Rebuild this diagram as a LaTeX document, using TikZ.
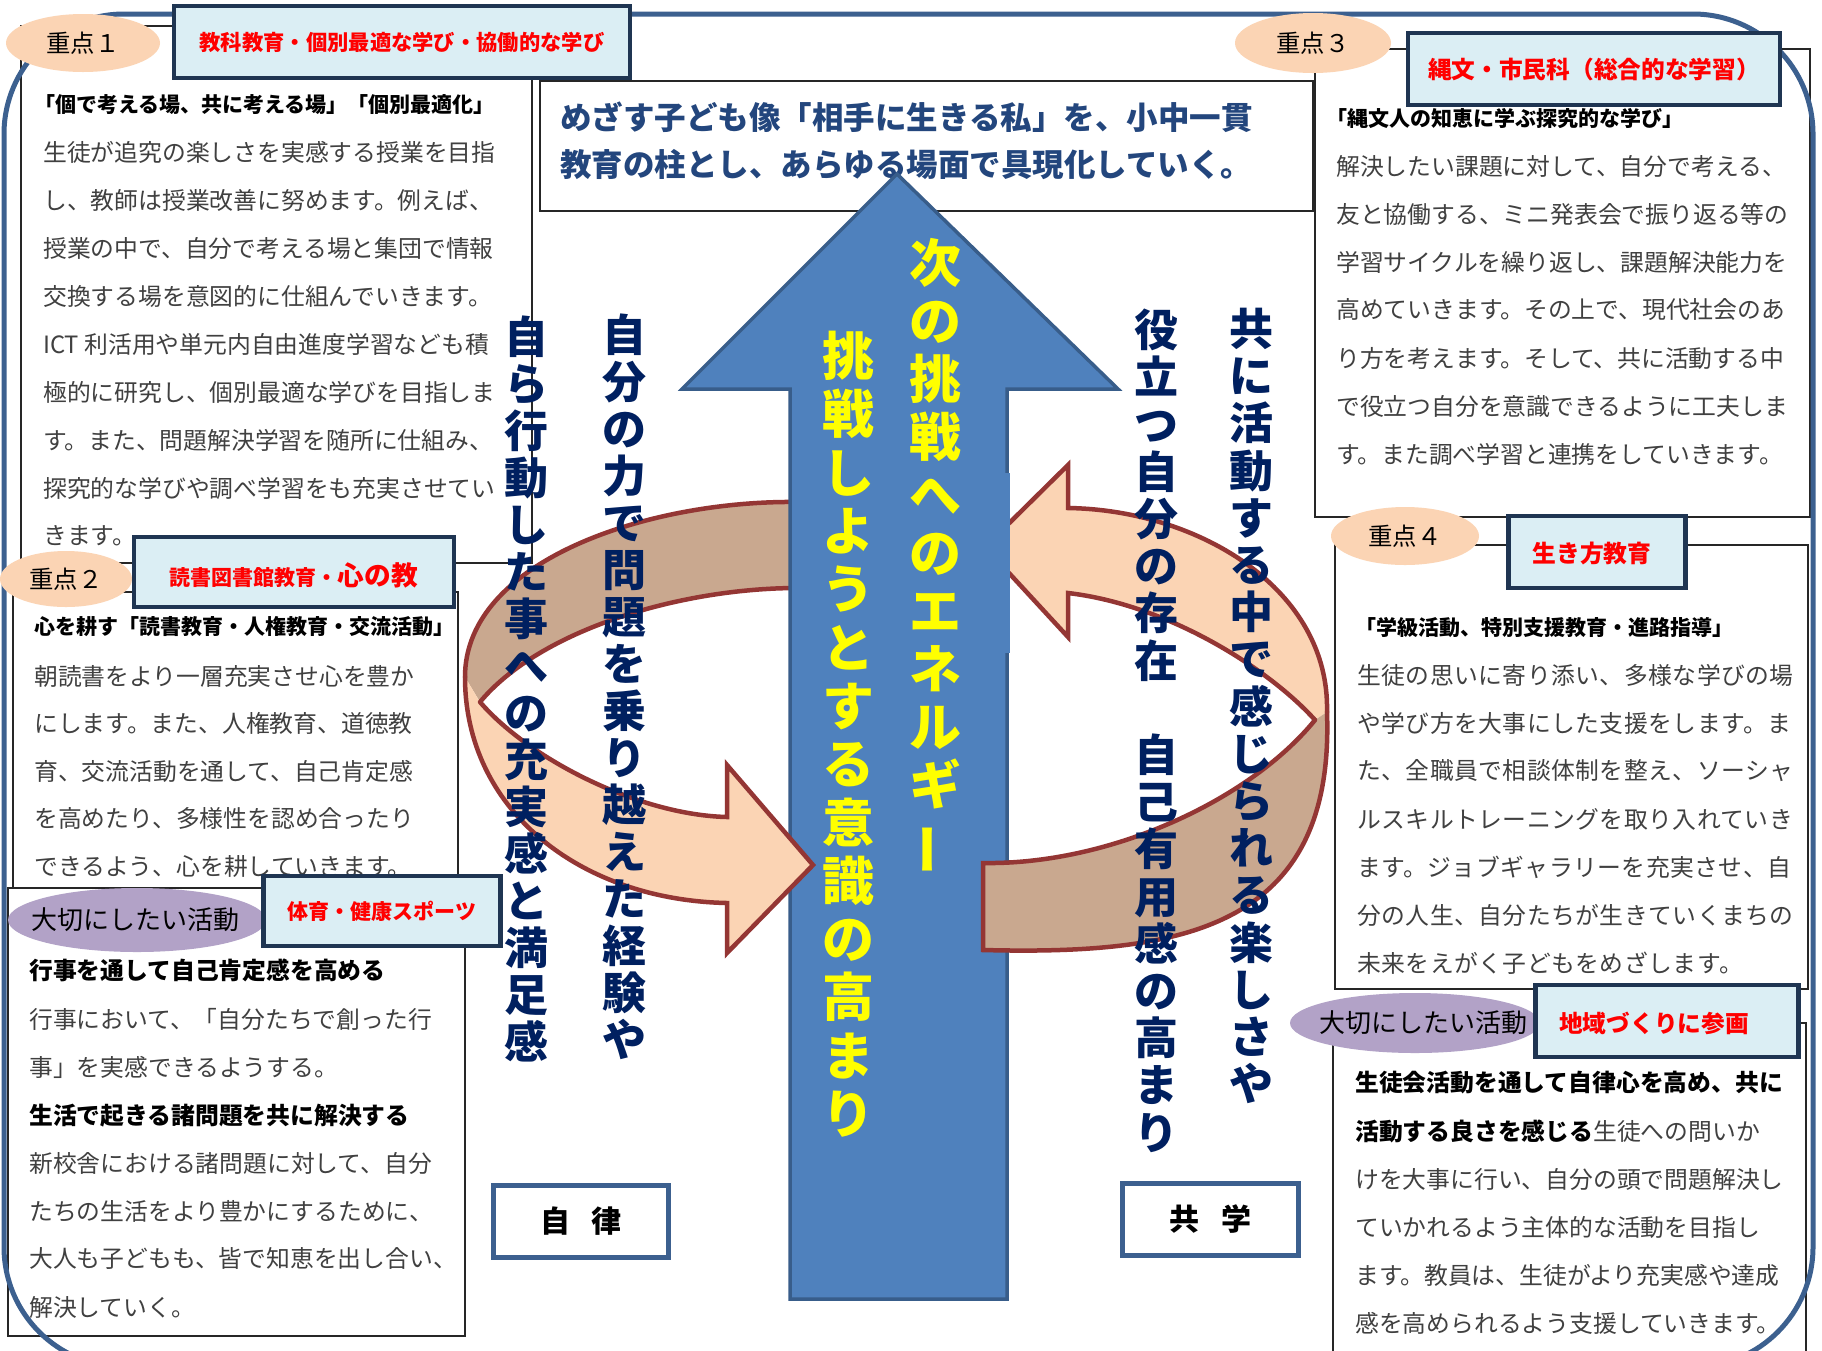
\documentclass[tikz,border=0pt]{standalone}
\usepackage{fontspec}
\setmainfont{Noto Sans CJK JP}
\newfontfamily\jpls{Noto Sans CJK JP}[LetterSpace=2]
\usepackage{graphicx}
\usetikzlibrary{shapes.geometric}

\definecolor{bodygray}{RGB}{64,64,64}
\definecolor{lblfill}{RGB}{219,238,244}
\definecolor{lblborder}{RGB}{31,53,82}
\definecolor{peach}{RGB}{251,212,180}
\definecolor{looptan}{RGB}{201,168,143}
\definecolor{loopred}{RGB}{148,54,52}
\definecolor{purp}{RGB}{178,162,199}
\definecolor{frameblue}{RGB}{60,96,143}
\definecolor{arrowfill}{RGB}{79,129,189}
\definecolor{arrowline}{RGB}{56,93,138}
\definecolor{navy}{RGB}{0,32,96}
\definecolor{goalblue}{RGB}{35,70,125}
\definecolor{ylw}{RGB}{255,255,0}

\ExplSyntaxOn
\NewDocumentCommand\vtext{mm}
  {
    \vbox:n
      {
        \baselineskip=#1 \relax
        \lineskiplimit=-\maxdimen \relax
        \tl_map_inline:nn {#2} { \hbox_to_wd:nn {1em} { \hss ##1 \hss } }
      }
  }
\ExplSyntaxOff

\begin{document}
\begin{tikzpicture}[x=1pt,y=-1pt,
  thinbox/.style={draw=black!85, line width=1.3pt, fill=white},
  lbl/.style={draw=lblborder, line width=4.5pt, fill=lblfill, inner sep=0pt, outer sep=0pt},
  lbltext/.style={text=red, font=\bfseries\fontsize{22}{26}\selectfont},
  body/.style={text=bodygray, font=\fontsize{23.8}{28}\selectfont, inner sep=0pt, anchor=west},
  bodyls/.style={text=bodygray, font=\jpls\fontsize{23.8}{28}\selectfont, inner sep=0pt, anchor=west},
  bold/.style={text=black, font=\bfseries\fontsize{23.8}{28}\selectfont, inner sep=0pt, anchor=west},
  head/.style={text=black, font=\bfseries\fontsize{21}{25}\selectfont, inner sep=0pt, anchor=west},
  pt/.style={ellipse, fill=peach, inner sep=0pt},
  pu/.style={ellipse, fill=purp, inner sep=0pt},
  ptext/.style={inner sep=0pt, font=\fontsize{24.4}{28}\selectfont},
  putext/.style={inner sep=0pt, font=\fontsize{26}{30}\selectfont},
  loopline/.style={draw=loopred, line width=4.5pt, line join=miter, line cap=round},
  kbox/.style={draw=frameblue, line width=5pt, fill=white, inner sep=0pt, font=\bfseries\fontsize{30}{34}\selectfont},
  vy/.style={anchor=north, inner sep=0pt, text=ylw, font=\bfseries\fontsize{52}{58}\selectfont},
  vn/.style={anchor=north, inner sep=0pt, text=navy, font=\bfseries\fontsize{44}{48}\selectfont}
]
\useasboundingbox (0,0) rectangle (1822,1350);
\fill[white] (0,0) rectangle (1822,1350);

% ---------- thin text boxes ----------
\draw[thinbox] (21,26) rectangle (532,563);
\draw[thinbox] (13,592) rectangle (458,888);
\draw[thinbox] (8,888) rectangle (465,1336);
\draw[thinbox] (1315,49) rectangle (1810,517);
\draw[thinbox] (1335,545) rectangle (1808,989);
\draw[thinbox] (1333,1023) rectangle (1806,1380);
\draw[thinbox] (540,81) rectangle (1313,211);

% ---------- box 1 ----------
\node[head] (h1) at (34,105) {「個で考える場、共に考える場」「個別最適化」};
\foreach \t [count=\i from 0] in {生徒が追究の楽しさを実感する授業を目指, し、教師は授業改善に努めます。例えば、, 授業の中で、自分で考える場と集団で情報, 交換する場を意図的に仕組んでいきます。, ICT 利活用や単元内自由進度学習なども積, 極的に研究し、個別最適な学びを目指しま, す。また、問題解決学習を随所に仕組み、, 探究的な学びや調べ学習をも充実させてい, きます。}
  \node[body] (a\i) at (43,{152+48*\i}) {\t};

% ---------- box 2 ----------
\node[head] (h2) at (34,627) {心を耕す「読書教育・人権教育・交流活動」};
\foreach \t [count=\i from 0] in {朝読書をより一層充実させ心を豊か, にします。また、人権教育、道徳教, 育、交流活動を通して、自己肯定感, を高めたり、多様性を認め合ったり, できるよう、心を耕していきます。}
  \node[body] (b\i) at (34,{676+47.5*\i}) {\t};

% ---------- left taisetsu ----------
\node[bold] (c0) at (29,970) {行事を通して自己肯定感を高める};
\node[body] (c1) at (29,1019) {行事において、「自分たちで創った行};
\node[body] (c2) at (29,1067) {事」を実感できるようする。};
\node[bold] (c3) at (29,1116) {生活で起きる諸問題を共に解決する};
\node[body] (c4) at (29,1163) {新校舎における諸問題に対して、自分};
\node[body] (c5) at (29,1211) {たちの生活をより豊かにするために、};
\node[body] (c6) at (29,1258) {大人も子どもも、皆で知恵を出し合い、};
\node[body] (c7) at (29,1307) {解決していく。};

% ---------- box 3 ----------
\node[head] (h3) at (1326,119) {「縄文人の知恵に学ぶ探究的な学び」};
\foreach \t [count=\i from 0] in {解決したい課題に対して、自分で考える、, 友と協働する、ミニ発表会で振り返る等の, 学習サイクルを繰り返し、課題解決能力を, 高めていきます。その上で、現代社会のあ, り方を考えます。そして、共に活動する中, で役立つ自分を意識できるように工夫しま, す。また調べ学習と連携をしていきます。}
  \node[body] (d\i) at (1336,{166+48*\i}) {\t};

% ---------- box 4 ----------
\node[head] (h4) at (1355,628) {「学級活動、特別支援教育・進路指導」};
\foreach \t [count=\i from 0] in {生徒の思いに寄り添い、多様な学びの場, や学び方を大事にした支援をします。ま, た、全職員で相談体制を整え、ソーシャ, ルスキルトレーニングを取り入れていき, ます。ジョブギャラリーを充実させ、自, 分の人生、自分たちが生きていくまちの, 未来をえがく子どもをめざします。}
  \node[bodyls] (e\i) at (1357,{675+48*\i}) {\t};

% ---------- box 5 ----------
\node[bold] (f0) at (1355,1083) {生徒会活動を通して自律心を高め、共に};
\node[body] (f1) at (1355,1131) {\textcolor{black}{\bfseries 活動する良さを感じる}生徒への問いか};
\foreach \t [count=\i from 2] in {けを大事に行い、自分の頭で問題解決し, ていかれるよう主体的な活動を目指し, ます。教員は、生徒がより充実感や達成, 感を高められるよう支援していきます。}
  \node[body] (f\i) at (1355,{1083+48*\i}) {\t};

% ---------- goal text ----------
\node[anchor=west, inner sep=0pt, text=goalblue, font=\bfseries\fontsize{31.5}{36}\selectfont] (g1) at (560,117) {めざす子ども像「相手に生きる私」を、小中一貫};
\node[anchor=west, inner sep=0pt, text=goalblue, font=\bfseries\fontsize{31.5}{36}\selectfont] (g2) at (560,165) {教育の柱とし、あらゆる場面で具現化していく。};

% ---------- outer frame ----------
\draw[frameblue, line width=5pt, rounded corners=120pt] (4,14) rectangle (1813,1367);

% ---------- ellipses ----------
\node[pt, minimum width=154, minimum height=58] (k1) at (83,43) {};
\node[ptext] at (k1) {重点１};
\node[pt, minimum width=132, minimum height=56] (k2) at (66,579) {};
\node[ptext] at (k2) {重点２};
\node[pt, minimum width=156, minimum height=60] (k3) at (1313,43) {};
\node[ptext] at (k3) {重点３};
\node[pt, minimum width=148, minimum height=58] (k4) at (1405,536) {};
\node[ptext] at (k4) {重点４};
\node[pu, minimum width=258, minimum height=64] (t1) at (137,920) {};
\node[putext] at (135,920) {大切にしたい活動};
\node[pu, minimum width=250, minimum height=60] (t2) at (1415,1023) {};
\node[putext] at (1423,1023) {大切にしたい活動};

% ---------- label boxes ----------
\node[lbl, minimum width=456, minimum height=72] (l1) at (402,42) {};
\node[lbltext, font=\bfseries\fontsize{21.3}{25}\selectfont] at (l1) {教科教育・個別最適な学び・協働的な学び};
\node[lbl, minimum width=320, minimum height=70] (l2) at (294,572) {};
\node[lbltext] at (294,575) {{\fontsize{21}{25}\selectfont 読書図書館教育・}{\fontsize{26.7}{30}\selectfont 心の教}};
\node[lbl, minimum width=237, minimum height=70] (l5) at (382,911) {};
\node[lbltext, font=\bfseries\fontsize{21}{25}\selectfont] at (l5) {体育・健康スポーツ};
\node[lbl, minimum width=372, minimum height=72] (l3) at (1594,69) {};
\node[lbltext, font=\bfseries\fontsize{23.7}{28}\selectfont] at (l3) {縄文・市民科（総合的な学習）};
\node[lbl, minimum width=177, minimum height=72] (l4) at (1597,552) {};
\node[lbltext, font=\bfseries\fontsize{23.8}{28}\selectfont] at (1592,553) {生き方教育};
\node[lbl, minimum width=263, minimum height=72] (l6) at (1667,1021) {};
\node[lbltext, font=\bfseries\fontsize{23.7}{28}\selectfont] at (1654,1023) {地域づくりに参画};

% ---------- loops (back parts) ----------
\fill[looptan] (798,502) .. controls (650,500) and (465,560) .. (465,677) -- (480,702) .. controls (540,630) and (680,588) .. (798,588) -- cycle;
\draw[loopline] (798,502) .. controls (650,500) and (465,560) .. (465,677);
\draw[loopline] (480,702) .. controls (540,630) and (680,588) .. (798,588);

\fill[peach] (1068,508) .. controls (1200,510) and (1330,590) .. (1327,712) -- (1315,720) .. controls (1270,670) and (1170,605) .. (1068,593) -- (1068,637) -- (985,547) -- (1068,465) -- cycle;
\draw[loopline] (1315,720) .. controls (1270,670) and (1170,605) .. (1068,593) -- (1068,637) -- (985,547) -- (1068,465) -- (1068,508) .. controls (1200,510) and (1330,590) .. (1327,712);

% ---------- big arrow ----------
\draw[draw=arrowline, fill=arrowfill, line width=3.5pt, line join=miter] (897,174) -- (1118,389) -- (1007,389) -- (1007,1299) -- (790,1299) -- (790,389) -- (682,389) -- cycle;
\fill[arrowfill] (990,473) rectangle (1010,653);

% ---------- loops (front parts) ----------
\fill[peach] (465,677) .. controls (465,810) and (580,900) .. (727,903) -- (727,953) -- (813,865) -- (727,765) -- (727,817) .. controls (640,815) and (530,760) .. (480,702) -- cycle;
\draw[loopline] (465,677) .. controls (465,810) and (580,900) .. (727,903) -- (727,953) -- (813,865) -- (727,765) -- (727,817) .. controls (640,815) and (530,760) .. (480,702);

\fill[looptan] (1327,712) .. controls (1335,930) and (1180,955) .. (983,950) -- (983,863) .. controls (1110,865) and (1250,800) .. (1315,720) -- cycle;
\draw[loopline] (1327,712) .. controls (1335,930) and (1180,955) .. (983,950) -- (983,863) .. controls (1110,865) and (1250,800) .. (1315,720);

% ---------- vertical texts ----------
\node[vy] (y1) at (935,238) {\vtext{58pt}{次の挑戦へのエネルギ{\rotatebox[origin=c]{90}{ー}}}};
\node[vy] (y2) at (848,331) {\vtext{58.3pt}{挑戦しようとする意識の高まり}};
\node[vn] (n1) at (526,316) {\vtext{47pt}{自ら行動した事への充実感と満足感}};
\node[vn] (n2) at (624,314) {\vtext{47pt}{自分の力で問題を乗り越えた経験や}};
\node[vn] (n3) at (1156,309) {\vtext{47.2pt}{役立つ自分の存在　自己有用感の高まり}};
\node[vn] (n4) at (1251,308) {\vtext{47.2pt}{共に活動する中で感じられる楽しさや}};

% ---------- bottom keyword boxes ----------
\node[kbox, minimum width=175, minimum height=72] (jr) at (581,1221) {自\hspace{22pt}律};
\node[kbox, minimum width=176, minimum height=72] (kg) at (1210,1219) {共\hspace{22pt}学};
\end{tikzpicture}
\end{document}
